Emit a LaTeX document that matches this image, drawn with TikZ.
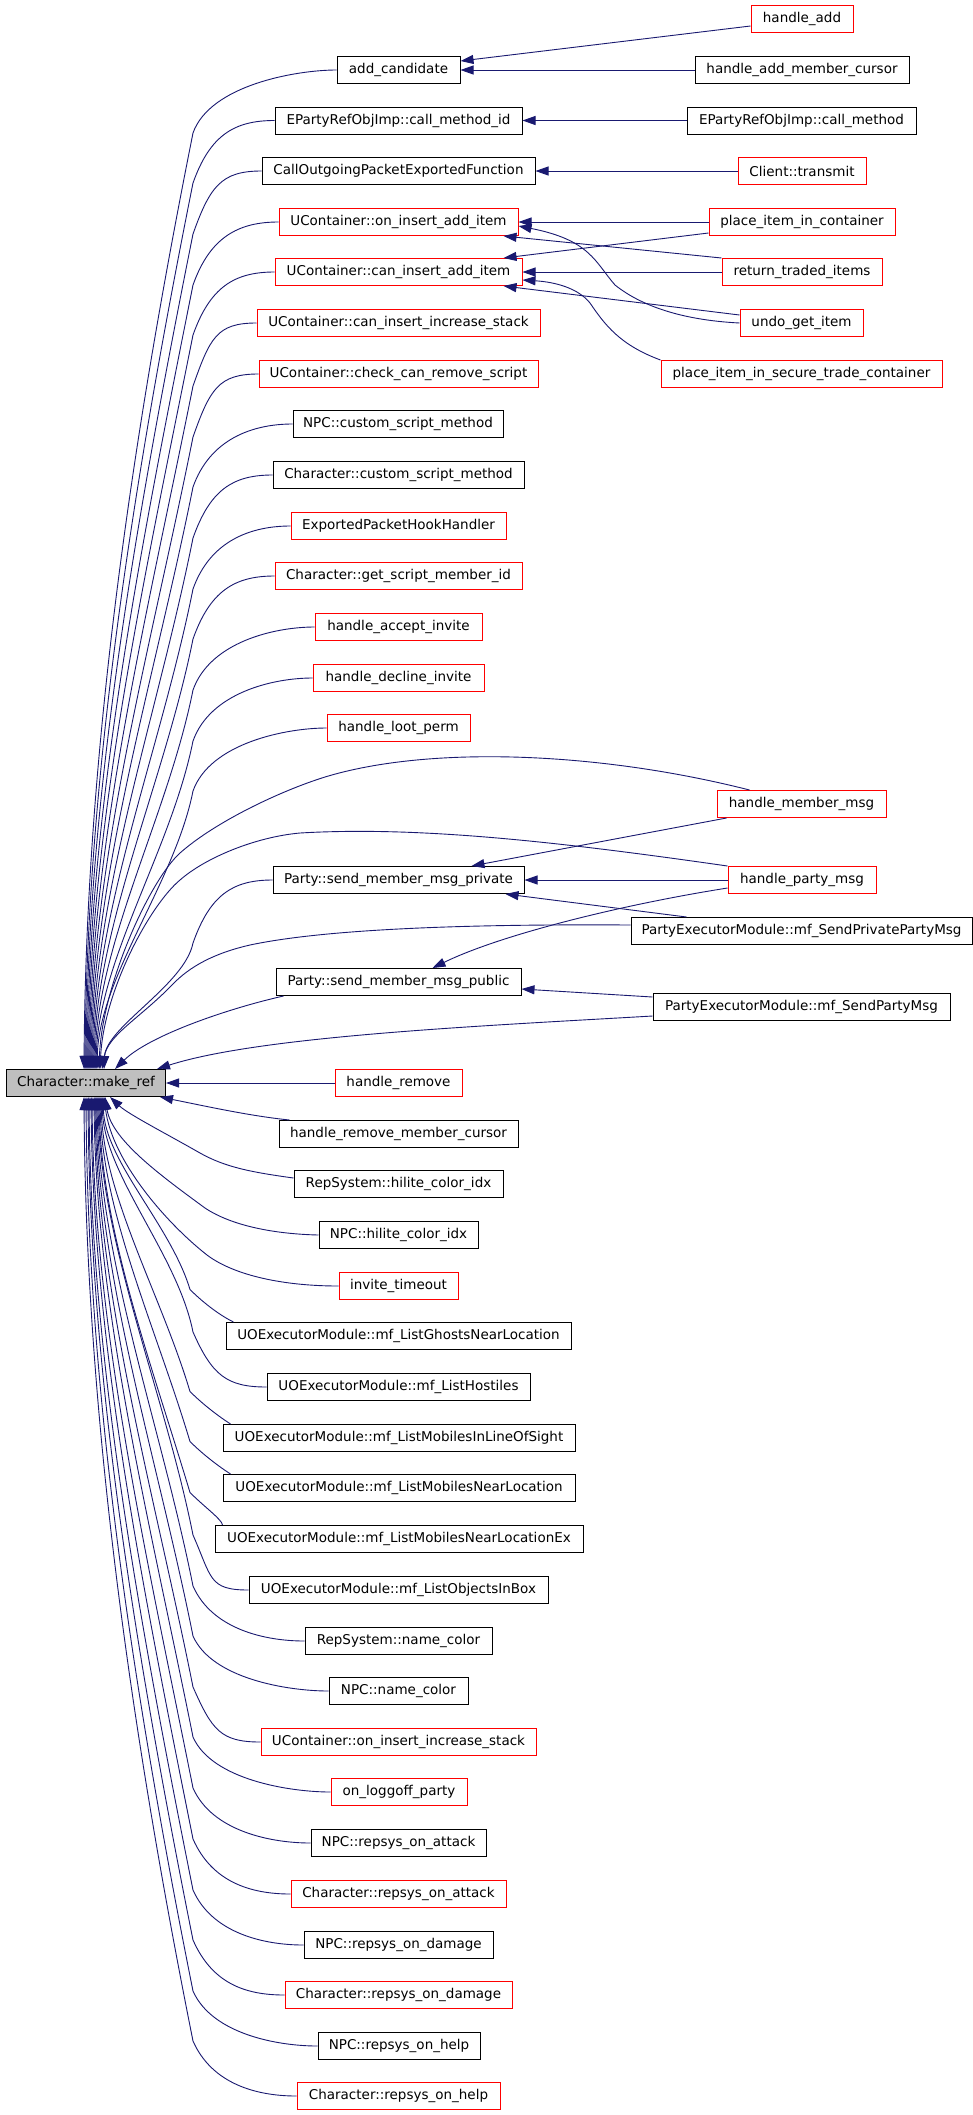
\documentclass[tikz,border=0pt]{standalone}
\usepackage{fontspec}
\setmainfont{DejaVu Sans}
\usetikzlibrary{arrows.meta}
\definecolor{edgeblue}{RGB}{25,25,112}
\definecolor{nodegray}{RGB}{191,191,191}
\newcommand\labfont{\fontsize{13.5}{16}\selectfont}
\tikzset{
  box/.style={draw=black, line width=1pt, minimum height=27pt, inner sep=0pt, font=\labfont},
  rbox/.style={box, draw=red},
  gbox/.style={box, fill=nodegray},
  edge/.style={draw=edgeblue, line width=0.9pt, -{Triangle[length=13pt,width=9pt]}},
}
% top-side caller edge to make_ref
\newcommand\topedge[3]{%
  \pgfmathsetmacro\eKy{#2+63}%
  \pgfmathsetmacro\eCy{#2+15}%
  \pgfmathsetmacro\eD{(1069-\eKy)/3}%
  \pgfmathsetmacro\eAx{193-0.2*\eD}%
  \pgfmathsetmacro\eAy{\eKy+\eD}%
  \pgfmathsetmacro\eBx{#3+2}%
  \pgfmathsetmacro\eBy{1069-\eD}%
  \pgfmathsetmacro\eTx{#3-6}%
  \draw[edge] (#1.west) .. controls +(-40,0) and (210,\eCy) .. (193,\eKy) .. controls (\eAx,\eAy) and (\eBx,\eBy) .. ([xshift=\eTx pt]mr.north west);%
}
% bottom-side caller edge to make_ref
\newcommand\botedge[3]{%
  \pgfmathsetmacro\eKy{#2-55}%
  \pgfmathsetmacro\eCy{#2-12}%
  \pgfmathsetmacro\eD{(\eKy-1097)/3}%
  \pgfmathsetmacro\eAx{193-0.2*\eD}%
  \pgfmathsetmacro\eAy{\eKy-\eD}%
  \pgfmathsetmacro\eBx{#3+2}%
  \pgfmathsetmacro\eBy{1097+\eD}%
  \pgfmathsetmacro\eTx{#3-6}%
  \draw[edge] (#1.west) .. controls +(-40,0) and (212,\eCy) .. (193,\eKy) .. controls (\eAx,\eAy) and (\eBx,\eBy) .. ([xshift=\eTx pt]mr.south west);%
}
% bottom-side edge from a wide node (starts at its top left corner)
\newcommand\wideedge[3]{%
  \pgfmathsetmacro\eTop{#2-13.5}%
  \pgfmathsetmacro\eCa{\eTop-6}%
  \pgfmathsetmacro\eCb{\eTop-18}%
  \pgfmathsetmacro\eKy{\eTop-33}%
  \pgfmathsetmacro\eD{(\eKy-1097)/3}%
  \pgfmathsetmacro\eAx{190-0.3*\eD}%
  \pgfmathsetmacro\eAy{\eKy-\eD}%
  \pgfmathsetmacro\eBx{#3+2}%
  \pgfmathsetmacro\eBy{1097+\eD}%
  \pgfmathsetmacro\eTx{#3-6}%
  \draw[edge] ([xshift=8pt]#1.north west) .. controls (222,\eCa) and (205,\eCb) .. (190,\eKy) .. controls (\eAx,\eAy) and (\eBx,\eBy) .. ([xshift=\eTx pt]mr.south west);%
}
\begin{document}
\begin{tikzpicture}[x=1pt,y=-1pt]
\path[use as bounding box, fill=white] (0,0) rectangle (973,2115);

% ---------- right column ----------
\node[rbox, minimum width=102pt] (hadd) at (802,19) {handle\_add};
\node[box, minimum width=214pt] (hamc) at (802,70) {handle\_add\_member\_cursor};
\node[box, minimum width=229pt] (cm) at (801.5,120.5) {EPartyRefObjImp::call\_method};
\node[rbox, minimum width=128pt] (ct) at (802,171) {Client::transmit};
\node[rbox, minimum width=186pt] (pic) at (802,222) {place\_item\_in\_container};
\node[rbox, minimum width=160pt] (rti) at (802,272) {return\_traded\_items};
\node[rbox, minimum width=123pt] (ugi) at (801.5,323) {undo\_get\_item};
\node[rbox, minimum width=281pt] (pis) at (801.5,374) {place\_item\_in\_secure\_trade\_container};
\node[rbox, minimum width=169pt] (hmm) at (801.5,804) {handle\_member\_msg};
\node[rbox, minimum width=148pt] (hpm) at (802,880) {handle\_party\_msg};
\node[box, minimum width=341pt] (spp) at (801.5,931) {PartyExecutorModule::mf\_SendPrivatePartyMsg};
\node[box, minimum width=297pt] (spm) at (801.5,1007) {PartyExecutorModule::mf\_SendPartyMsg};

% ---------- middle column ----------
\node[box, minimum width=123pt] (ac) at (398.5,70) {add\_candidate};
\node[box, minimum width=247pt] (cmi) at (398.5,120.5) {EPartyRefObjImp::call\_method\_id};
\node[box, minimum width=273pt] (cop) at (398.5,171) {CallOutgoingPacketExportedFunction};
\node[rbox, minimum width=239pt] (oiai) at (398.5,222) {UContainer::on\_insert\_add\_item};
\node[rbox, minimum width=247pt] (ciai) at (398.5,272) {UContainer::can\_insert\_add\_item};
\node[rbox, minimum width=283pt] (ciis) at (398.5,323) {UContainer::can\_insert\_increase\_stack};
\node[rbox, minimum width=279pt] (ccrs) at (398.5,374) {UContainer::check\_can\_remove\_script};
\node[box, minimum width=210pt] (ncsm) at (398,424) {NPC::custom\_script\_method};
\node[box, minimum width=251pt] (ccsm) at (398.5,475) {Character::custom\_script\_method};
\node[rbox, minimum width=215pt] (epkh) at (398.5,526) {ExportedPacketHookHandler};
\node[rbox, minimum width=247pt] (gsmi) at (398.5,576) {Character::get\_script\_member\_id};
\node[rbox, minimum width=167pt] (hai) at (398.5,627) {handle\_accept\_invite};
\node[rbox, minimum width=171pt] (hdi) at (398.5,678) {handle\_decline\_invite};
\node[rbox, minimum width=143pt] (hlp) at (398.5,728) {handle\_loot\_perm};
\node[box, minimum width=251pt] (smpr) at (398.5,880) {Party::send\_member\_msg\_private};
\node[box, minimum width=245pt] (smpu) at (398.5,982) {Party::send\_member\_msg\_public};
\node[gbox, minimum width=159pt] (mr) at (86,1083) {Character::make\_ref};
\node[rbox, minimum width=127pt] (hr) at (398.5,1083) {handle\_remove};
\node[box, minimum width=239pt] (hrmc) at (398.5,1134) {handle\_remove\_member\_cursor};
\node[box, minimum width=209pt] (rshc) at (398.5,1184) {RepSystem::hilite\_color\_idx};
\node[box, minimum width=159pt] (nhc) at (398.5,1235) {NPC::hilite\_color\_idx};
\node[rbox, minimum width=119pt] (it) at (398.5,1286) {invite\_timeout};
\node[box, minimum width=345pt] (lg) at (398.5,1336) {UOExecutorModule::mf\_ListGhostsNearLocation};
\node[box, minimum width=263pt] (lh) at (398.5,1387) {UOExecutorModule::mf\_ListHostiles};
\node[box, minimum width=352pt] (llos) at (399,1438) {UOExecutorModule::mf\_ListMobilesInLineOfSight};
\node[box, minimum width=352pt] (lmnl) at (399,1488) {UOExecutorModule::mf\_ListMobilesNearLocation};
\node[box, minimum width=368pt] (lmnle) at (399,1539) {UOExecutorModule::mf\_ListMobilesNearLocationEx};
\node[box, minimum width=299pt] (lob) at (398.5,1590) {UOExecutorModule::mf\_ListObjectsInBox};
\node[box, minimum width=187pt] (rsnc) at (398.5,1641) {RepSystem::name\_color};
\node[box, minimum width=139pt] (nnc) at (398.5,1691) {NPC::name\_color};
\node[rbox, minimum width=275pt] (oiis) at (398.5,1742) {UContainer::on\_insert\_increase\_stack};
\node[rbox, minimum width=136pt] (olp) at (399,1792) {on\_loggoff\_party};
\node[box, minimum width=175pt] (nra) at (398.5,1843) {NPC::repsys\_on\_attack};
\node[rbox, minimum width=215pt] (cra) at (398.5,1894) {Character::repsys\_on\_attack};
\node[box, minimum width=189pt] (nrd) at (398.5,1945) {NPC::repsys\_on\_damage};
\node[rbox, minimum width=227pt] (crd) at (398.5,1995) {Character::repsys\_on\_damage};
\node[box, minimum width=162pt] (nrh) at (399,2046) {NPC::repsys\_on\_help};
\node[rbox, minimum width=203pt] (crh) at (398.5,2096) {Character::repsys\_on\_help};

% ---------- right -> middle edges ----------
\draw[edge] ([yshift=-7pt]hadd.west) -- ([yshift=9pt]ac.east);
\draw[edge] (hamc.west) -- (ac.east);
\draw[edge] (cm.west) -- (cmi.east);
\draw[edge] (ct.west) -- (cop.east);
\draw[edge] (pic.west) -- (oiai.east);
\draw[edge] ([yshift=-11pt]pic.west) -- ([xshift=-19pt]ciai.north east);
\draw[edge] (rti.north west) -- ([xshift=-15pt]oiai.south east);
\draw[edge] (rti.west) -- (ciai.east);
\draw[edge] (ugi.west) .. controls (680,320) and (640,305) .. (615,285) .. controls (595,262) and (590,240) .. ([yshift=-4pt]oiai.east);
\draw[edge] ([yshift=8pt]ugi.west) -- ([xshift=-19pt]ciai.south east);
\draw[edge] (pis.north west) .. controls (620,345) and (605,325) .. (590,303) .. controls (578,288) and (555,282) .. ([yshift=-8pt]ciai.east);
\draw[edge] ([xshift=10pt]hmm.south west) -- ([xshift=-53pt]smpr.north east);
\draw[edge] (hpm.west) -- (smpr.east);
\draw[edge] ([xshift=56pt]spp.north west) -- ([xshift=-19pt]smpr.south east);
\draw[edge] ([yshift=-8pt]hpm.west) .. controls (620,905) and (500,935) .. ([xshift=34pt]smpu.north);
\draw[edge] ([yshift=10pt]spm.west) -- ([yshift=-7pt]smpu.east);

% ---------- edges into Character::make_ref ----------
\topedge{ac}{70}{84}
\topedge{cmi}{120}{85}
\topedge{cop}{171}{86}
\topedge{oiai}{222}{87}
\topedge{ciai}{272}{88}
\topedge{ciis}{323}{89}
\topedge{ccrs}{374}{90}
\topedge{ncsm}{424}{91}
\topedge{ccsm}{475}{92}
\topedge{epkh}{526}{93}
\topedge{gsmi}{576}{94}
\topedge{hai}{627}{95}
\topedge{hdi}{678}{96}
\topedge{hlp}{728}{97}
\topedge{smpr}{880}{104}

\draw[edge] ([xshift=33pt]hmm.north west) .. controls (600,752) and (430,745) .. (325,777) .. controls (280,791) and (215,822) .. (180,853) .. controls (150,880) and (102,985) .. ([xshift=93pt]mr.north west);
\draw[edge] (hpm.north west) .. controls (560,842) and (420,826) .. (300,833) .. controls (255,837) and (205,858) .. (180,880) .. controls (150,905) and (104,990) .. ([xshift=94pt]mr.north west);
\draw[edge] ([yshift=6pt]spp.west) .. controls (480,924) and (330,928) .. (250,945) .. controls (215,953) and (190,966) .. (172,985) .. controls (140,1018) and (108,1035) .. ([xshift=96pt]mr.north west);
\draw[edge] ([xshift=8pt]smpu.south west) .. controls (230,1008) and (150,1035) .. ([xshift=109pt]mr.north west);
\draw[edge] ([yshift=-9pt]spm.west) .. controls (480,1026) and (260,1036) .. ([xshift=151pt]mr.north west);

\draw[edge] (hr.west) -- (mr.east);
\draw[edge] ([xshift=11pt]hrmc.north west) .. controls (250,1116) and (205,1106) .. ([xshift=154pt]mr.south west);
\draw[edge] ([yshift=6pt]rshc.west) .. controls (250,1172) and (225,1167) .. (200,1153) .. controls (165,1133) and (128,1114) .. ([xshift=104pt]mr.south west);
\draw[edge] (nhc.west) .. controls (275,1234) and (232,1226) .. (205,1208) .. controls (160,1175) and (112,1140) .. ([xshift=99pt]mr.south west);
\draw[edge] (it.west) .. controls (285,1286) and (235,1276) .. (207,1255) .. controls (165,1222) and (112,1160) .. ([xshift=98pt]mr.south west);

\wideedge{lg}{1336}{103}
\botedge{lh}{1387}{102}
\wideedge{llos}{1438}{101}
\wideedge{lmnl}{1488}{100}
\wideedge{lmnle}{1539}{99}
\botedge{lob}{1590}{98}
\botedge{rsnc}{1641}{97}
\botedge{nnc}{1691}{96}
\botedge{oiis}{1742}{95}
\botedge{olp}{1792}{94}
\botedge{nra}{1843}{92}
\botedge{cra}{1894}{91}
\botedge{nrd}{1945}{89}
\botedge{crd}{1995}{88}
\botedge{nrh}{2046}{86}
\botedge{crh}{2096}{84}
\end{tikzpicture}
\end{document}
